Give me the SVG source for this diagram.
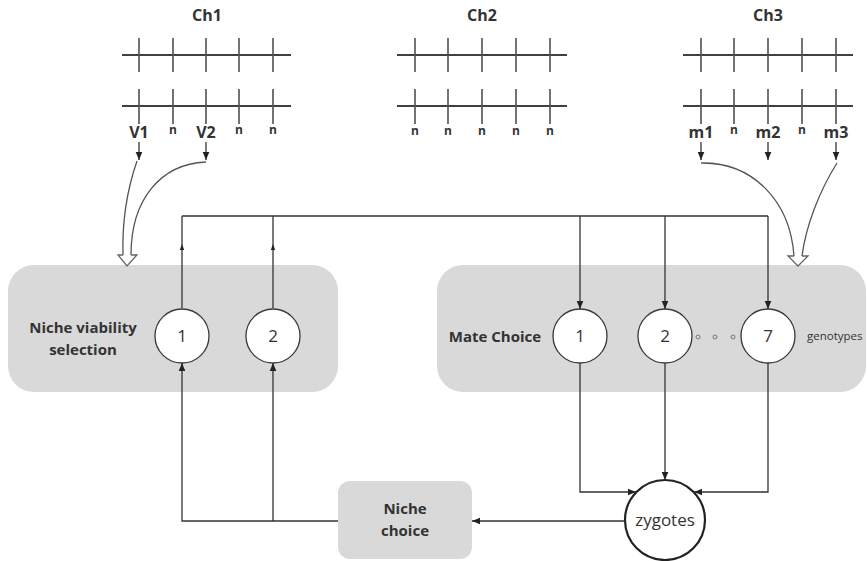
<svg xmlns="http://www.w3.org/2000/svg" width="868" height="561" viewBox="0 0 868 561">
  <style>
    text { font-family: "Open Sans", "Liberation Sans", sans-serif; fill: #333; }
    .title { font-size: 16px; font-weight: bold; text-anchor: middle; }
    .loc { font-size: 16px; font-weight: bold; text-anchor: middle; }
    .n { font-size: 12px; font-weight: bold; text-anchor: middle; }
    .axis { stroke: #404040; stroke-width: 2; }
    .tick { stroke: #505050; stroke-width: 1.6; }
    .box { fill: #d9d9d9; }
    .lbl { font-size: 15px; font-weight: bold; text-anchor: middle; }
    .gene { fill: #fff; stroke: #3a3a3a; stroke-width: 1.3; }
    .num { font-size: 17px; text-anchor: middle; }
    .wire { fill: none; stroke: #333; stroke-width: 1.3; }
    .bend { fill: none; stroke: #555; stroke-width: 1.3; }
    .head { fill: #fff; stroke: #666; stroke-width: 1.3; }
  </style>
  <defs>
    <marker id="tri" markerUnits="userSpaceOnUse" markerWidth="8" markerHeight="8" viewBox="0 0 8 8" refX="8" refY="4" orient="auto">
      <path d="M0,0.7 L8,4 L0,7.3 Z" fill="#222"/>
    </marker>
    <marker id="tiny" markerUnits="userSpaceOnUse" markerWidth="6" markerHeight="6" viewBox="0 0 6 6" refX="3" refY="3" orient="auto">
      <path d="M0,0.8 L6,3 L0,5.2 Z" fill="#222"/>
    </marker>
  </defs>

  <!-- Chromosome 1 -->
  <g id="ch1">
    <text class="title" x="207" y="21">Ch1</text>
    <line class="axis" x1="122" y1="55" x2="291" y2="55"/>
    <line class="axis" x1="122" y1="106" x2="291" y2="106"/>
    <path class="tick" d="M139,38V72 M173,38V72 M206,38V72 M239,38V72 M273,38V72 M139,89V124 M173,89V124 M206,89V124 M239,89V124 M273,89V124"/>
    <text class="loc" x="139" y="138">V1</text>
    <text class="n" x="173" y="134">n</text>
    <text class="loc" x="206" y="138">V2</text>
    <text class="n" x="239" y="134">n</text>
    <text class="n" x="273" y="134">n</text>
  </g>

  <!-- Chromosome 2 -->
  <g id="ch2">
    <text class="title" x="482" y="21">Ch2</text>
    <line class="axis" x1="397" y1="55" x2="567" y2="55"/>
    <line class="axis" x1="397" y1="106" x2="567" y2="106"/>
    <path class="tick" d="M415,38V72 M448,38V72 M482,38V72 M516,38V72 M550,38V72 M415,89V124 M448,89V124 M482,89V124 M516,89V124 M550,89V124"/>
    <text class="n" x="415" y="135">n</text>
    <text class="n" x="448" y="135">n</text>
    <text class="n" x="482" y="135">n</text>
    <text class="n" x="516" y="135">n</text>
    <text class="n" x="550" y="135">n</text>
  </g>

  <!-- Chromosome 3 -->
  <g id="ch3">
    <text class="title" x="768" y="21">Ch3</text>
    <line class="axis" x1="683" y1="55" x2="853" y2="55"/>
    <line class="axis" x1="683" y1="106" x2="853" y2="106"/>
    <path class="tick" d="M701,38V72 M734,38V72 M768,38V72 M802,38V72 M836,38V72 M701,89V124 M734,89V124 M768,89V124 M802,89V124 M836,89V124"/>
    <text class="loc" x="701" y="138">m1</text>
    <text class="n" x="734" y="134">n</text>
    <text class="loc" x="768" y="138">m2</text>
    <text class="n" x="802" y="134">n</text>
    <text class="loc" x="836" y="138">m3</text>
  </g>

  <!-- Niche viability selection -->
  <g id="viability">
    <rect class="box" x="8" y="265" width="330" height="127" rx="26"/>
    <text class="lbl" x="83" y="333">Niche viability</text>
    <text class="lbl" x="83" y="355">selection</text>
    <circle class="gene" cx="182" cy="336" r="27"/>
    <text class="num" x="182" y="342">1</text>
    <circle class="gene" cx="273" cy="336" r="27"/>
    <text class="num" x="273" y="342">2</text>
  </g>

  <!-- Mate choice -->
  <g id="mate">
    <rect class="box" x="437" y="265" width="429" height="127" rx="26"/>
    <text class="lbl" x="495" y="342">Mate Choice</text>
    <circle class="gene" cx="580" cy="336" r="27"/>
    <text class="num" x="580" y="342">1</text>
    <circle class="gene" cx="665" cy="336" r="27"/>
    <text class="num" x="665" y="342">2</text>
    <circle class="gene" cx="768" cy="336" r="27"/>
    <text class="num" x="768" y="342">7</text>
    <g fill="none" stroke="#777" stroke-width="1">
      <circle cx="698" cy="337" r="2"/>
      <circle cx="715" cy="337" r="2"/>
      <circle cx="733" cy="337" r="2"/>
    </g>
    <text x="807" y="340" font-size="11.5" fill="#444">genotypes</text>
  </g>

  <!-- Niche choice -->
  <g id="niche-choice">
    <rect class="box" x="338" y="481" width="134" height="78" rx="12"/>
    <text class="lbl" x="405" y="514">Niche</text>
    <text class="lbl" x="405" y="536">choice</text>
  </g>

  <!-- Zygotes -->
  <g id="zygotes">
    <circle cx="665" cy="520" r="40" fill="#fff" stroke="#222" stroke-width="2.2"/>
    <text x="665" y="526" font-size="17" text-anchor="middle">zygotes</text>
  </g>

  <g id="connectors">
    <!-- locus to trait arrows -->
    <path class="wire" marker-end="url(#tri)" d="M139,142V160"/>
    <path class="wire" marker-end="url(#tri)" d="M206,142V160"/>
    <path class="wire" marker-end="url(#tri)" d="M701,142V160"/>
    <path class="wire" marker-end="url(#tri)" d="M768,142V160"/>
    <path class="wire" marker-end="url(#tri)" d="M836,142V160"/>
    <!-- combined loci feeding the selection stages -->
    <path class="bend" d="M137,161 C127,190 122,222 123,255"/>
    <path class="bend" d="M206,162 C160,164 131,200 131,255"/>
    <path class="head" d="M123,255 H118 L127,266 L137,255 H131"/>
    <path class="bend" d="M701,163 C752,162 790,200 794,256"/>
    <path class="bend" d="M837,163 C820,190 806,225 802,256"/>
    <path class="head" d="M794,256 H788 L798,266 L808,256 H802"/>
    <!-- survivors to mate choice -->
    <path class="wire" marker-mid="url(#tiny)" d="M182,308 V247 V216"/>
    <path class="wire" marker-mid="url(#tiny)" d="M273,308 V247 V216"/>
    <path class="wire" d="M182,216 H768"/>
    <path class="wire" marker-end="url(#tri)" d="M580,216 V309"/>
    <path class="wire" marker-end="url(#tri)" d="M665,216 V309"/>
    <path class="wire" marker-end="url(#tri)" d="M768,216 V309"/>
    <!-- mating to zygotes -->
    <path class="wire" marker-end="url(#tri)" d="M580,363 V492 H636"/>
    <path class="wire" marker-end="url(#tri)" d="M665,363 V480"/>
    <path class="wire" marker-end="url(#tri)" d="M768,363 V492 H694"/>
    <!-- zygotes to niche choice -->
    <path class="wire" marker-end="url(#tri)" d="M625,521 H472"/>
    <!-- niche choice back to viability -->
    <path class="wire" marker-end="url(#tri)" d="M338,521 H182 V363"/>
    <path class="wire" marker-end="url(#tri)" d="M273,521 V363"/>
  </g>
</svg>
